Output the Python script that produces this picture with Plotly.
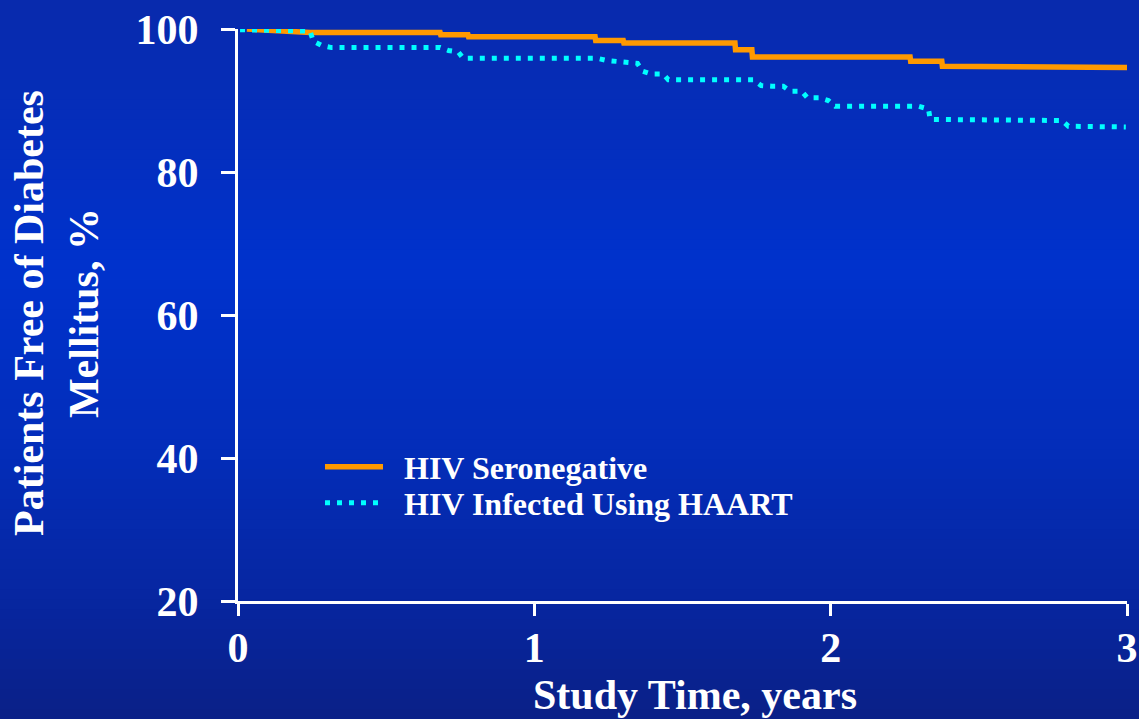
import plotly.graph_objects as go

# ---- data ----
seroneg_x = [0.03, 0.24, 0.245, 0.682, 0.684, 0.776, 0.778, 1.205, 1.207, 1.30, 1.302,
             1.677, 1.679, 1.734, 1.736, 2.268, 2.270, 2.375, 2.377, 3.0]
seroneg_y = [100.0, 99.6, 99.5, 99.5, 99.2, 99.2, 98.9, 98.9, 98.4, 98.4, 98.05,
             98.05, 97.1, 97.1, 96.1, 96.1, 95.5, 95.5, 94.8, 94.6]

haart_x = [0.007, 0.243, 0.254, 0.282, 0.316, 0.682, 0.71, 0.743, 0.760, 1.212, 1.244,
           1.278, 1.312, 1.348, 1.365, 1.394, 1.435, 1.452, 1.739, 1.765, 1.801, 1.840,
           1.863, 1.902, 1.921, 1.961, 1.992, 2.015, 2.296, 2.330, 2.336, 2.74, 2.78,
           2.802, 2.996]
haart_y = [99.9, 99.7, 98.3, 97.7, 97.4, 97.4, 97.0, 96.8, 95.9, 95.9, 95.6,
           95.5, 95.4, 95.2, 94.1, 93.7, 93.7, 92.9, 92.9, 92.1, 92.0, 92.0,
           91.3, 91.3, 90.4, 90.4, 90.0, 89.2, 89.2, 88.8, 87.35, 87.35, 87.2,
           86.4, 86.3]

series_names = ["HIV Seronegative", "HIV Infected Using HAART"]
x_ticks = [0, 1, 2, 3]
y_ticks = [20, 40, 60, 80, 100]
x_title = "Study Time, years"
y_title = "Patients Free of Diabetes<br>Mellitus, %"

FONT = "Liberation Serif, Times New Roman, serif"
PAD = "&nbsp;&nbsp;"

fig = go.Figure()
fig.add_trace(go.Scatter(x=seroneg_x, y=seroneg_y, mode="lines", name=PAD + series_names[0],
                         line=dict(color="#ff9900", width=5.5), legend="legend"))
fig.add_trace(go.Scatter(x=haart_x, y=haart_y, mode="lines", name=PAD + series_names[1],
                         line=dict(color="#00ffff", width=5, dash="5px,7px"), legend="legend2"))

# ---- background gradient (figure-level decoration) ----
W, H = 1139, 719
ml, mr, mt, mb = 238, 12, 29, 118
pw, ph = W - ml - mr, H - mt - mb
stops = [(0, (8, 42, 172)), (270, (0, 50, 205)), (450, (3, 45, 185)),
         (600, (7, 38, 160)), (719, (10, 32, 135))]

def col_at(py):
    for (a, ca), (b, cb) in zip(stops[:-1], stops[1:]):
        if a <= py <= b:
            t = (py - a) / (b - a)
            return tuple(int(round(ca[i] + (cb[i] - ca[i]) * t)) for i in range(3))
    return stops[-1][1]

shapes = []
n = 72
for i in range(n):
    p0 = H * i / n
    p1 = H * (i + 1) / n + 1
    c = col_at((p0 + p1) / 2)
    shapes.append(dict(type="rect", xref="paper", yref="paper", layer="below",
                       x0=-ml / pw - 0.01, x1=1 + mr / pw + 0.01,
                       y0=(H - mb - p1) / ph, y1=(H - mb - p0) / ph,
                       fillcolor="rgb(%d,%d,%d)" % c, line=dict(width=0)))

legend_common = dict(xanchor="left", yanchor="middle", bgcolor="rgba(0,0,0,0)",
                     font=dict(size=32, family=FONT, color="white", weight="bold"),
                     itemwidth=58)
lx = (320 - ml) / pw

fig.update_layout(
    width=W, height=H,
    margin=dict(l=ml, r=mr, t=mt, b=mb),
    paper_bgcolor="rgb(0,45,190)",
    plot_bgcolor="rgba(0,0,0,0)",
    shapes=shapes,
    font=dict(family=FONT, color="white", size=42),
    showlegend=True,
    legend=dict(x=lx, y=(H - mb - 467) / ph, **legend_common),
    legend2=dict(x=lx, y=(H - mb - 503) / ph, **legend_common),
    xaxis=dict(range=[0, 3], tickvals=x_ticks, ticktext=[str(v) for v in x_ticks],
               showgrid=False, zeroline=False, showline=True, linecolor="white",
               linewidth=3, ticks="outside", ticklen=12, tickwidth=3, tickcolor="white",
               tickfont=dict(size=42, family=FONT, color="white", weight="bold"),
               ticklabelstandoff=-4, automargin=False),
    yaxis=dict(range=[20, 100], tickvals=y_ticks, ticktext=[str(v) for v in y_ticks],
               showgrid=False, zeroline=False, showline=True, linecolor="white",
               linewidth=3, ticks="outside", ticklen=14, tickwidth=3, tickcolor="white",
               tickfont=dict(size=42, family=FONT, color="white", weight="bold"),
               ticklabelstandoff=14, automargin=False),
    annotations=[
        dict(text="<b>" + x_title + "</b>", xref="paper", yref="paper",
             x=(695 - ml) / pw, y=(H - mb - 695) / ph, xanchor="center", yanchor="middle",
             showarrow=False, font=dict(size=42, family=FONT, color="white")),
        dict(text="<b>" + y_title + "</b>", xref="paper", yref="paper",
             x=(56 - ml) / pw, y=(H - mb - 313) / ph, xanchor="center", yanchor="middle",
             textangle=-90, showarrow=False,
             font=dict(size=42, family=FONT, color="white")),
    ],
)

fig.write_html("out.html")
